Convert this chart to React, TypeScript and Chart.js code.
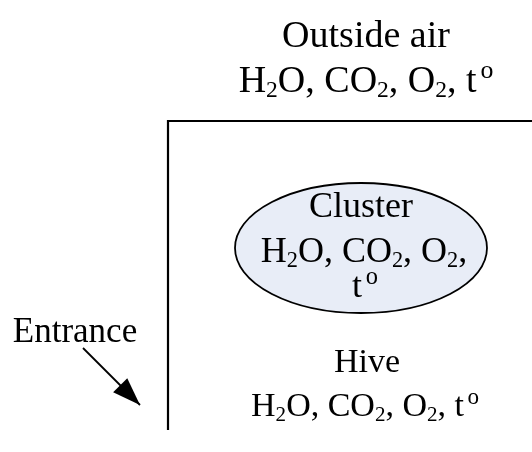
import React, { useEffect, useRef } from "react";
import { Chart, registerables } from "chart.js";

Chart.register(...registerables);

// Diagram coordinate space (data units)
const spaceWidth = 532;
const spaceHeight = 452;

// Hive wall (top edge and left edge)
const wallX = [532, 168, 168];
const wallY = [121, 121, 430];

// Entrance arrow (start -> tip)
const arrowX = [83, 140];
const arrowY = [348, 405];

// Cluster ellipse
const clusterCenterX = [361];
const clusterCenterY = [248];
const clusterRadiusX = 126;
const clusterRadiusY = 65;

// Text labels: "_" = next char subscript, "^" = next char superscript
const labelTexts = [
  "Outside air",
  "H_2O, CO_2, O_2, t^o",
  "Cluster",
  "H_2O, CO_2, O_2,",
  "t^o",
  "Entrance",
  "Hive",
  "H_2O, CO_2, O_2, t^o",
];
const labelX = [366, 366, 361, 364, 365, 75, 367, 365];
const labelY = [47, 92, 217, 262, 297, 342, 372, 416];
const labelSize = [38, 38, 36, 36, 36, 35, 34, 34];

const FONT_FAMILY = '"Liberation Serif", "Times New Roman", serif';

type Run = { text: string; kind: "n" | "sub" | "sup" };

function parseRuns(s: string): Run[] {
  const runs: Run[] = [];
  let buf = "";
  for (let i = 0; i < s.length; i++) {
    const c = s[i];
    if ((c === "_" || c === "^") && i + 1 < s.length) {
      if (buf) runs.push({ text: buf, kind: "n" });
      buf = "";
      runs.push({ text: s[i + 1], kind: c === "_" ? "sub" : "sup" });
      i++;
    } else {
      buf += c;
    }
  }
  if (buf) runs.push({ text: buf, kind: "n" });
  return runs;
}

const diagramPlugin = {
  id: "diagram",
  beforeDatasetsDraw(chart: any) {
    const ctx = chart.ctx;
    const xs = chart.scales.x;
    const ys = chart.scales.y;
    for (let i = 0; i < clusterCenterX.length; i++) {
      const cx = xs.getPixelForValue(clusterCenterX[i]);
      const cy = ys.getPixelForValue(clusterCenterY[i]);
      const rx = Math.abs(xs.getPixelForValue(clusterCenterX[i] + clusterRadiusX) - cx);
      const ry = Math.abs(ys.getPixelForValue(clusterCenterY[i] + clusterRadiusY) - cy);
      ctx.save();
      ctx.beginPath();
      ctx.ellipse(cx, cy, rx, ry, 0, 0, Math.PI * 2);
      ctx.fillStyle = "#e8edf7";
      ctx.fill();
      ctx.lineWidth = 1.8;
      ctx.strokeStyle = "#000000";
      ctx.stroke();
      ctx.restore();
    }
  },
  afterDatasetsDraw(chart: any) {
    const ctx = chart.ctx;
    // arrow head
    const arrowMeta = chart.getDatasetMeta(1);
    const p0 = arrowMeta.data[0];
    const p1 = arrowMeta.data[1];
    if (p0 && p1) {
      const ang = Math.atan2(p1.y - p0.y, p1.x - p0.x);
      const len = 28;
      const hw = 10;
      const bx = p1.x - Math.cos(ang) * len;
      const by = p1.y - Math.sin(ang) * len;
      ctx.save();
      ctx.beginPath();
      ctx.moveTo(p1.x, p1.y);
      ctx.lineTo(bx + Math.sin(ang) * hw, by - Math.cos(ang) * hw);
      ctx.lineTo(bx - Math.sin(ang) * hw, by + Math.cos(ang) * hw);
      ctx.closePath();
      ctx.fillStyle = "#000000";
      ctx.fill();
      ctx.restore();
    }
    // labels
    const labelMeta = chart.getDatasetMeta(2);
    ctx.save();
    ctx.fillStyle = "#000000";
    ctx.textBaseline = "alphabetic";
    ctx.textAlign = "left";
    labelTexts.forEach((t, i) => {
      const el = labelMeta.data[i];
      if (!el) return;
      const size = labelSize[i];
      const runs = parseRuns(t);
      const fontFor = (r: Run) => {
        const s = r.kind === "n" ? size : r.kind === "sub" ? size * 0.62 : size * 0.68;
        return `${s}px ${FONT_FAMILY}`;
      };
      const gapFor = (r: Run) => (r.kind === "sup" ? size * 0.1 : 0);
      let total = 0;
      const widths = runs.map((r) => {
        ctx.font = fontFor(r);
        const w = ctx.measureText(r.text).width + gapFor(r);
        total += w;
        return w;
      });
      let x = el.x - total / 2;
      runs.forEach((r, k) => {
        ctx.font = fontFor(r);
        let dy = 0;
        if (r.kind === "sub") dy = size * 0.14;
        if (r.kind === "sup") dy = -size * 0.36;
        ctx.fillText(r.text, x + gapFor(r), el.y + dy);
        x += widths[k];
      });
    });
    ctx.restore();
  },
};

export default function App() {
  const canvasRef = useRef<HTMLCanvasElement | null>(null);

  useEffect(() => {
    if (!canvasRef.current) return;
    const chart = new Chart(canvasRef.current, {
      type: "scatter",
      data: {
        datasets: [
          {
            label: "Hive wall",
            data: wallX.map((x, i) => ({ x, y: wallY[i] })),
            showLine: true,
            borderColor: "#000000",
            borderWidth: 2.2,
            pointRadius: 0,
            fill: false,
            tension: 0,
          },
          {
            label: "Entrance",
            data: arrowX.map((x, i) => ({ x, y: arrowY[i] })),
            showLine: true,
            borderColor: "#000000",
            borderWidth: 1.8,
            pointRadius: 0,
            fill: false,
            tension: 0,
          },
          {
            label: "Labels",
            data: labelX.map((x, i) => ({ x, y: labelY[i] })),
            showLine: false,
            pointRadius: 0,
            pointHoverRadius: 0,
          },
        ],
      },
      options: {
        animation: false,
        responsive: false,
        maintainAspectRatio: false,
        devicePixelRatio: 1,
        layout: { padding: 0 },
        events: [],
        scales: {
          x: { type: "linear", min: 0, max: spaceWidth, display: false },
          y: { type: "linear", min: 0, max: spaceHeight, reverse: true, display: false },
        },
        plugins: {
          legend: { display: false },
          tooltip: { enabled: false },
          title: { display: false },
        },
      },
      plugins: [diagramPlugin],
    });
    return () => chart.destroy();
  }, []);

  return (
    <div style={{ position: "fixed", left: 0, top: 0, width: 532, height: 452, background: "#ffffff" }}>
      <canvas ref={canvasRef} width={532} height={452} style={{ display: "block" }} />
    </div>
  );
}
